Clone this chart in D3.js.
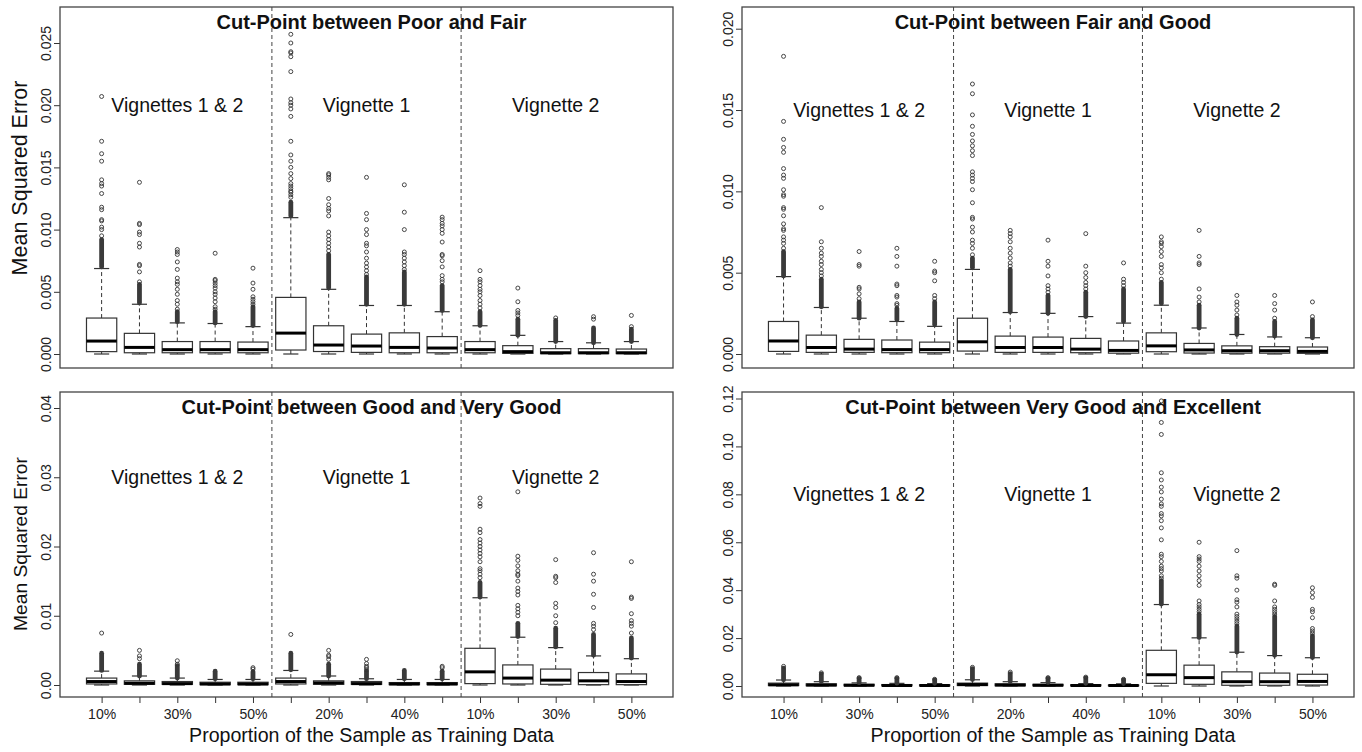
<!DOCTYPE html>
<html>
<head>
<meta charset="utf-8">
<script src="https://cdn.jsdelivr.net/npm/d3@7"></script>
<style>
  body { margin: 0; background: #fff; }
  text { font-family: "Liberation Sans", Arial, sans-serif; fill: #111; }
</style>
</head>
<body>
<div id="chart"></div>
<script>
// ---- data ----
const panelTitles = [
    "Cut-Point between Poor and Fair",
    "Cut-Point between Fair and Good",
    "Cut-Point between Good and Very Good",
    "Cut-Point between Very Good and Excellent"
];
const groupNames = ["Vignettes 1 & 2", "Vignette 1", "Vignette 2"];
const proportions = ["10%", "20%", "30%", "40%", "50%"];
const groupLabelValue = [0.020, 0.015, 0.030, 0.080];
const yAxisTitle = "Mean Squared Error";
const xAxisTitle = "Proportion of the Sample as Training Data";

const yTicks = [
    [0, 0.005, 0.010, 0.015, 0.020, 0.025],
    [0, 0.005, 0.010, 0.015, 0.020],
    [0, 0.01, 0.02, 0.03, 0.04],
    [0, 0.02, 0.04, 0.06, 0.08, 0.10, 0.12]
];
const yTickDigits = [3, 3, 2, 2];

// box stats: [lower whisker, q1, median, q3, upper whisker]
const p1Stats = [
    [0, 0.00019, 0.00104, 0.00289, 0.00687],
    [0, 0.0001, 0.00053, 0.00166, 0.0040],
    [0, 0.0001, 0.00035, 0.0010, 0.0025],
    [0, 0.0001, 0.00035, 0.0010, 0.00245],
    [0, 0.0001, 0.00035, 0.00096, 0.0022],
    [0, 0.00032, 0.00168, 0.00455, 0.01096],
    [0, 0.0002, 0.00072, 0.00227, 0.0052],
    [0, 0.00013, 0.00064, 0.0016, 0.0039],
    [0, 0.0001, 0.00053, 0.0017, 0.0039],
    [0, 0.0001, 0.00048, 0.0014, 0.0034],
    [0, 0.0001, 0.00035, 0.0010, 0.00227],
    [0, 0.00005, 0.00019, 0.00067, 0.0015],
    [0, 0.00003, 0.0001, 0.00043, 0.0010],
    [0, 0.00003, 0.0001, 0.00043, 0.0009],
    [0, 0.00003, 0.0001, 0.0004, 0.0010]
];
// dense stacks of overlapping outliers: [from, to]
const p1Dense = [
    [0.0070, 0.0092], [0.0041, 0.0056], [0.0026, 0.0034], [0.0025, 0.0034], [0.0023, 0.0038],
    [0.0111, 0.0122], [0.0053, 0.0080], [0.0040, 0.0062], [0.0040, 0.0066], [0.0035, 0.0055],
    [0.0023, 0.0034], [0.0015, 0.0028], [0.0010, 0.0027], [0.0009, 0.0021], [0.0010, 0.0020]
];
const p1Outliers = [
    [0.0095, 0.0100, 0.0102, 0.0107, 0.0108, 0.0116, 0.0118, 0.0129, 0.0135, 0.0137, 0.0140, 0.0155, 0.0161, 0.0171, 0.0207],
    [0.0058, 0.0066, 0.0071, 0.0072, 0.0086, 0.0089, 0.0096, 0.0098, 0.0104, 0.0105, 0.0138],
    [0.0036, 0.0040, 0.0043, 0.0048, 0.0052, 0.0056, 0.0058, 0.0061, 0.0068, 0.0074, 0.0080, 0.0082, 0.0084],
    [0.0036, 0.0038, 0.0042, 0.0045, 0.0048, 0.0050, 0.0053, 0.0055, 0.0057, 0.0059, 0.0060, 0.0081],
    [0.0040, 0.0042, 0.0044, 0.0046, 0.0052, 0.0057, 0.0069],
    [0.0126, 0.0128, 0.0130, 0.0131, 0.0133, 0.0135, 0.0137, 0.0141, 0.0145, 0.0150, 0.0155, 0.0160, 0.0171,
     0.0191, 0.0197, 0.0200, 0.0202, 0.0205, 0.0227, 0.0239, 0.0242, 0.0243, 0.0250, 0.0257],
    [0.0083, 0.0086, 0.0089, 0.0092, 0.0095, 0.0098, 0.0111, 0.0115, 0.0117, 0.0120, 0.0125, 0.0140, 0.0142, 0.0144, 0.0145],
    [0.0064, 0.0067, 0.0070, 0.0073, 0.0077, 0.0082, 0.0087, 0.0089, 0.0096, 0.0100, 0.0108, 0.0113, 0.0142],
    [0.0068, 0.0071, 0.0074, 0.0077, 0.0080, 0.0082, 0.0100, 0.0114, 0.0136],
    [0.0058, 0.0060, 0.0063, 0.0070, 0.0075, 0.0079, 0.0080, 0.0090, 0.0097, 0.0100, 0.0103, 0.0105, 0.0108, 0.0110],
    [0.0037, 0.0040, 0.0043, 0.0047, 0.0050, 0.0052, 0.0055, 0.0058, 0.0060, 0.0067],
    [0.0031, 0.0033, 0.0035, 0.0042, 0.0053],
    [0.0029],
    [0.0028, 0.0030],
    [0.0022, 0.0031]
];

const p2Stats = [
    [0, 0.00016, 0.0008, 0.0020, 0.00476],
    [0, 0.0001, 0.0004, 0.00116, 0.00286],
    [0, 0.0001, 0.0003, 0.0009, 0.0022],
    [0, 0.00008, 0.00027, 0.00086, 0.0020],
    [0, 0.00008, 0.00027, 0.00073, 0.0017],
    [0, 0.00018, 0.00075, 0.0022, 0.0052],
    [0, 0.0001, 0.0004, 0.0011, 0.00255],
    [0, 0.0001, 0.0004, 0.00104, 0.0025],
    [0, 0.00008, 0.0003, 0.00096, 0.0023],
    [0, 0.00005, 0.00022, 0.0008, 0.0019],
    [0, 0.00014, 0.0005, 0.0013, 0.0030],
    [0, 0.00006, 0.00025, 0.00065, 0.0016],
    [0, 0.00005, 0.0002, 0.0005, 0.0012],
    [0, 0.00005, 0.0002, 0.00045, 0.00105],
    [0, 0.00004, 0.00016, 0.00043, 0.0010]
];
const p2Dense = [
    [0.0048, 0.0063], [0.0029, 0.0046], [0.0022, 0.0032], [0.0021, 0.0028], [0.0018, 0.0032],
    [0.0053, 0.0059], [0.0026, 0.0052], [0.0025, 0.0036], [0.0023, 0.0038], [0.0020, 0.0040],
    [0.0031, 0.0044], [0.0016, 0.0030], [0.0012, 0.0022], [0.0011, 0.0020], [0.0010, 0.0021]
];
const p2Outliers = [
    [0.0065, 0.0068, 0.0070, 0.0072, 0.0076, 0.0077, 0.0080, 0.0085, 0.0089, 0.0090, 0.0097, 0.0098, 0.0101,
     0.0108, 0.0110, 0.0114, 0.0124, 0.0127, 0.0132, 0.0143, 0.0183],
    [0.0048, 0.0050, 0.0052, 0.0055, 0.0057, 0.0060, 0.0062, 0.0065, 0.0069, 0.0090],
    [0.0034, 0.0037, 0.0040, 0.0041, 0.0054, 0.0055, 0.0063],
    [0.0030, 0.0031, 0.0035, 0.0036, 0.0042, 0.0043, 0.0054, 0.0060, 0.0065],
    [0.0034, 0.0036, 0.0045, 0.0050, 0.0051, 0.0057],
    [0.0061, 0.0065, 0.0068, 0.0070, 0.0075, 0.0078, 0.0083, 0.0084, 0.0093, 0.0101, 0.0106, 0.0108, 0.0110,
     0.0112, 0.0122, 0.0125, 0.0128, 0.0131, 0.0135, 0.0140, 0.0147, 0.0160, 0.0166],
    [0.0054, 0.0056, 0.0059, 0.0062, 0.0065, 0.0069, 0.0072, 0.0074, 0.0076],
    [0.0038, 0.0040, 0.0042, 0.0048, 0.0054, 0.0057, 0.0070],
    [0.0040, 0.0042, 0.0044, 0.0047, 0.0050, 0.0054, 0.0074],
    [0.0042, 0.0044, 0.0046, 0.0056],
    [0.0046, 0.0050, 0.0053, 0.0055, 0.0060, 0.0063, 0.0066, 0.0068, 0.0069, 0.0072],
    [0.0032, 0.0035, 0.0040, 0.0055, 0.0056, 0.0060, 0.0076],
    [0.0024, 0.0027, 0.0030, 0.0032, 0.0036],
    [0.0022, 0.0027, 0.0031, 0.0036],
    [0.0023, 0.0032]
];

const p3Stats = [
    [0, 0.00015, 0.0005, 0.0010, 0.0020],
    [0, 0.0001, 0.00025, 0.0006, 0.0013],
    [0, 0.0001, 0.0002, 0.0005, 0.0010],
    [0, 0.00005, 0.00015, 0.0004, 0.0008],
    [0, 0.00005, 0.00015, 0.0004, 0.0008],
    [0, 0.00015, 0.0005, 0.0010, 0.0021],
    [0, 0.0001, 0.0003, 0.0006, 0.0013],
    [0, 0.0001, 0.0002, 0.0005, 0.0009],
    [0, 0.00005, 0.00015, 0.00035, 0.0008],
    [0, 0.00005, 0.00015, 0.00035, 0.0008],
    [0, 0.0002, 0.0019, 0.0053, 0.0126],
    [0, 0.00015, 0.0010, 0.0029, 0.0069],
    [0, 0.0001, 0.0007, 0.0023, 0.0054],
    [0, 0.00005, 0.0006, 0.0018, 0.0042],
    [0, 0.00005, 0.0005, 0.0016, 0.0038]
];
const p3Dense = [
    [0.0021, 0.0046], [0.0013, 0.0030], [0.0010, 0.0028], [0.0009, 0.0020], [0.0009, 0.0019],
    [0.0022, 0.0046], [0.0013, 0.0030], [0.0009, 0.0020], [0.0009, 0.0021], [0.0009, 0.0020],
    [0.0127, 0.0148], [0.0070, 0.0089], [0.0055, 0.0082], [0.0043, 0.0073], [0.0039, 0.0068]
];
const p3Outliers = [
    [0.0075], [0.0038, 0.0042, 0.0050], [0.0030, 0.0035], [], [0.0023, 0.0025],
    [0.0073], [0.0037, 0.0041, 0.0043, 0.0050], [0.0022, 0.0025, 0.0027, 0.0031, 0.0037], [], [0.0025, 0.0027],
    [0.0155, 0.0160, 0.0165, 0.0168, 0.0178, 0.0185, 0.0190, 0.0195, 0.0200, 0.0205, 0.0210, 0.0220,
     0.0225, 0.0258, 0.0262, 0.0270],
    [0.0100, 0.0105, 0.0110, 0.0115, 0.0130, 0.0135, 0.0140, 0.0150, 0.0158, 0.0160, 0.0165, 0.0172,
     0.0180, 0.0186, 0.0279],
    [0.0090, 0.0100, 0.0112, 0.0118, 0.0148, 0.0155, 0.0157, 0.0181],
    [0.0080, 0.0085, 0.0089, 0.0112, 0.0131, 0.0150, 0.0160, 0.0191],
    [0.0075, 0.0085, 0.0089, 0.0093, 0.0103, 0.0125, 0.0127, 0.0178]
];

const p4Stats = [
    [0, 0.0002, 0.0005, 0.0012, 0.0025],
    [0, 0.0001, 0.0004, 0.0009, 0.0018],
    [0, 0.0001, 0.0003, 0.0007, 0.0013],
    [0, 0.0001, 0.0002, 0.0006, 0.0011],
    [0, 0.0001, 0.0002, 0.0005, 0.0010],
    [0, 0.0002, 0.0006, 0.0012, 0.0026],
    [0, 0.0001, 0.0004, 0.0009, 0.0018],
    [0, 0.0001, 0.0003, 0.0007, 0.0014],
    [0, 0.0001, 0.0002, 0.0005, 0.0010],
    [0, 0.0001, 0.0002, 0.0004, 0.0009],
    [0, 0.0011, 0.0047, 0.0149, 0.0340],
    [0, 0.0007, 0.0035, 0.0087, 0.0201],
    [0, 0.0003, 0.0018, 0.0059, 0.0141],
    [0, 0.0003, 0.0018, 0.0054, 0.0127],
    [0, 0.0004, 0.0019, 0.0049, 0.0118]
];
const p4Dense = [
    [0.0026, 0.0075], [0.0019, 0.0050], [0.0014, 0.0032], [0.0012, 0.0032], [0.0011, 0.0025],
    [0.0027, 0.0072], [0.0019, 0.0052], [0.0015, 0.0032], [0.0011, 0.0034], [0.0010, 0.0025],
    [0.0342, 0.0440], [0.0202, 0.0300], [0.0142, 0.0250], [0.0128, 0.0290], [0.0119, 0.0210]
];
const p4Outliers = [
    [0.0082], [0.0055], [0.0035], [0.0035], [0.0028],
    [0.0078], [0.0058], [0.0035], [0.0037], [0.0028],
    [0.045, 0.046, 0.048, 0.049, 0.050, 0.052, 0.054, 0.055, 0.061, 0.066, 0.069, 0.071, 0.072, 0.075, 0.076,
     0.078, 0.081, 0.083, 0.086, 0.089, 0.105, 0.110, 0.119],
    [0.031, 0.032, 0.033, 0.034, 0.0355, 0.042, 0.044, 0.046, 0.048, 0.050, 0.052, 0.053, 0.054, 0.060],
    [0.026, 0.027, 0.028, 0.029, 0.030, 0.033, 0.035, 0.036, 0.040, 0.045, 0.046, 0.0565],
    [0.030, 0.031, 0.032, 0.033, 0.0355, 0.042, 0.0425],
    [0.022, 0.023, 0.024, 0.0285, 0.031, 0.032, 0.037, 0.039, 0.041]
];

const allStats = [p1Stats, p2Stats, p3Stats, p4Stats];
const allDense = [p1Dense, p2Dense, p3Dense, p4Dense];
const allOutliers = [p1Outliers, p2Outliers, p3Outliers, p4Outliers];

// ---- layout ----
const width = 1362, height = 752;
const panels = [
    { x0: 60,  x1: 673,  y0: 7,   y1: 368, zeroY: 354, topTickY: 43,  left: true,  bottom: false, yTitleSize: 21.5, yTitleY: 178 },
    { x0: 742, x1: 1354, y0: 7,   y1: 368, zeroY: 354, topTickY: 28.7, left: false, bottom: false },
    { x0: 60,  x1: 673,  y0: 392, y1: 697, zeroY: 685, topTickY: 408, left: true,  bottom: true, yTitleSize: 19.2, yTitleY: 544 },
    { x0: 742, x1: 1354, y0: 392, y1: 697, zeroY: 686, topTickY: 398.5, left: false, bottom: true }
];
const ink = "#333";

const svg = d3.select("#chart").append("svg")
    .attr("width", width)
    .attr("height", height);

const tickNames = [];
groupNames.forEach(() => proportions.forEach(p => tickNames.push(p)));

panels.forEach((p, k) => {
    const g = svg.append("g");
    const yTop = yTicks[k][yTicks[k].length - 1];
    const pxPerUnit = (p.zeroY - p.topTickY) / yTop;

    const x = d3.scaleLinear().domain([-0.1, 16.1]).range([p.x0, p.x1]);
    const y = d3.scaleLinear()
        .domain([-(p.y1 - p.zeroY) / pxPerUnit, yTop + (p.topTickY - p.y0) / pxPerUnit])
        .range([p.y1, p.y0]);

    const half = (x(1) - x(0)) * 0.4;
    const cap = half * 0.5;

    // y axis, labels rotated like R
    const yAxis = d3.axisLeft(y)
        .tickValues(yTicks[k])
        .tickFormat(d3.format("." + yTickDigits[k] + "f"))
        .tickSize(6);
    const ya = g.append("g").attr("transform", `translate(${p.x0},0)`).call(yAxis);
    ya.select(".domain").remove();
    ya.selectAll("line").attr("stroke", ink);
    ya.selectAll("text")
        .attr("x", null).attr("dy", null)
        .attr("text-anchor", "middle")
        .attr("transform", "translate(-9,0) rotate(-90)")
        .style("font-size", "14px")
        .style("fill", "#222");

    if (p.bottom) {
        const xAxis = d3.axisBottom(x)
            .tickValues(d3.range(1, 16))
            .tickFormat((d, i) => i % 2 === 0 ? tickNames[i] : "")
            .tickSize(6);
        const xa = g.append("g").attr("transform", `translate(0,${p.y1})`).call(xAxis);
        xa.select(".domain").remove();
        xa.selectAll("line").attr("stroke", ink);
        xa.selectAll("text").attr("y", 12).style("font-size", "14px").style("fill", "#222");

        g.append("text")
            .attr("x", (p.x0 + p.x1) / 2 + 5)
            .attr("y", 742)
            .attr("text-anchor", "middle")
            .style("font-size", "19.6px")
            .text(xAxisTitle);
    }

    if (p.left) {
        g.append("text")
            .attr("transform", `translate(27,${p.yTitleY}) rotate(-90)`)
            .attr("text-anchor", "middle")
            .style("font-size", p.yTitleSize + "px")
            .text(yAxisTitle);
    }

    // group separators
    g.selectAll(".sep").data([5.5, 10.5]).enter().append("line")
        .attr("x1", d => x(d)).attr("x2", d => x(d))
        .attr("y1", p.y0).attr("y2", p.y1)
        .attr("stroke", "#444").attr("stroke-width", 1)
        .attr("stroke-dasharray", "4,3");

    const stats = allStats[k];
    const boxes = g.selectAll(".box").data(stats).enter().append("g")
        .attr("class", "box");

    // whiskers
    boxes.append("line")
        .attr("x1", (d, i) => x(i + 1)).attr("x2", (d, i) => x(i + 1))
        .attr("y1", d => y(d[3])).attr("y2", d => y(d[4]))
        .attr("stroke", ink).attr("stroke-dasharray", "4,3");
    boxes.append("line")
        .attr("x1", (d, i) => x(i + 1)).attr("x2", (d, i) => x(i + 1))
        .attr("y1", d => y(d[0])).attr("y2", d => y(d[1]))
        .attr("stroke", ink).attr("stroke-dasharray", "4,3");
    // staples
    [0, 4].forEach(j => {
        boxes.append("line")
            .attr("x1", (d, i) => x(i + 1) - cap).attr("x2", (d, i) => x(i + 1) + cap)
            .attr("y1", d => y(d[j])).attr("y2", d => y(d[j]))
            .attr("stroke", ink).attr("stroke-width", 1.2);
    });
    // box
    boxes.append("rect")
        .attr("x", (d, i) => x(i + 1) - half)
        .attr("width", half * 2)
        .attr("y", d => y(d[3]))
        .attr("height", d => Math.max(0.5, y(d[1]) - y(d[3])))
        .attr("fill", "#fff")
        .attr("stroke", ink).attr("stroke-width", 1.2);
    // median
    boxes.append("line")
        .attr("x1", (d, i) => x(i + 1) - half).attr("x2", (d, i) => x(i + 1) + half)
        .attr("y1", d => y(d[2])).attr("y2", d => y(d[2]))
        .attr("stroke", "#000").attr("stroke-width", 3);

    // dense outlier stacks
    g.selectAll(".dense").data(allDense[k]).enter().append("rect")
        .attr("x", (d, i) => x(i + 1) - 2.4)
        .attr("width", 4.8)
        .attr("y", d => y(d[1]) - 2.4)
        .attr("height", d => y(d[0]) - y(d[1]) + 4.8)
        .attr("rx", 2.4)
        .attr("fill", "#3a3a3a");

    // single outliers
    allOutliers[k].forEach((vals, i) => {
        g.selectAll(null).data(vals).enter().append("circle")
            .attr("cx", x(i + 1))
            .attr("cy", d => y(d))
            .attr("r", 2)
            .attr("fill", "none")
            .attr("stroke", ink)
            .attr("stroke-width", 0.9);
    });

    // group labels
    g.selectAll(".grp").data(groupNames).enter().append("text")
        .attr("x", (d, j) => x(3 + 5 * j))
        .attr("y", y(groupLabelValue[k]))
        .attr("dy", "0.36em")
        .attr("text-anchor", "middle")
        .style("font-size", "19.5px")
        .text(d => d);

    // title
    g.append("text")
        .attr("x", (p.x0 + p.x1) / 2 + 5)
        .attr("y", p.y0 + 22)
        .attr("text-anchor", "middle")
        .style("font-size", "20px")
        .style("font-weight", "bold")
        .text(panelTitles[k]);

    // frame
    g.append("rect")
        .attr("x", p.x0).attr("y", p.y0)
        .attr("width", p.x1 - p.x0).attr("height", p.y1 - p.y0)
        .attr("fill", "none")
        .attr("stroke", "#444").attr("stroke-width", 1.3);
});
</script>
</body>
</html>
